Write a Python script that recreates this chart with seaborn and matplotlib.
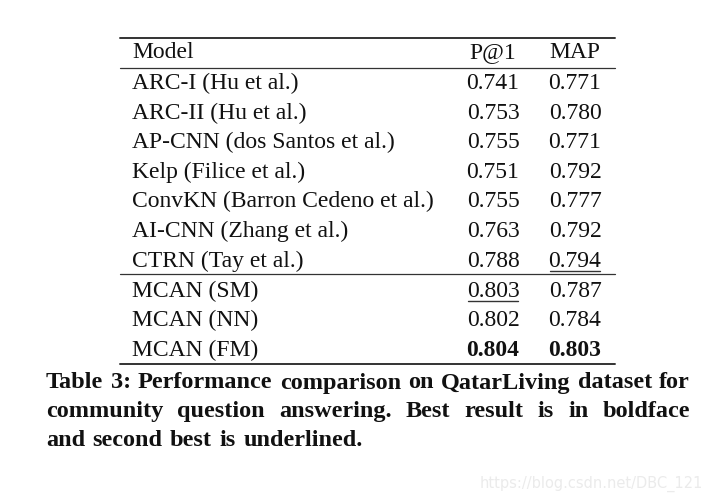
import matplotlib
matplotlib.use("Agg")
import matplotlib.pyplot as plt
import seaborn as sns

# table content
models = ["ARC-I (Hu et al.)", "ARC-II (Hu et al.)", "AP-CNN (dos Santos et al.)",
          "Kelp (Filice et al.)", "ConvKN (Barron Cedeno et al.)", "AI-CNN (Zhang et al.)",
          "CTRN (Tay et al.)", "MCAN (SM)", "MCAN (NN)", "MCAN (FM)"]
p_at_1 = [0.741, 0.753, 0.755, 0.751, 0.755, 0.763, 0.788, 0.803, 0.802, 0.804]
map_scores = [0.771, 0.780, 0.771, 0.792, 0.777, 0.792, 0.794, 0.787, 0.784, 0.803]
headers = ["Model", "P@1", "MAP"]
caption_lines = ["Table 3: Performance comparison on QatarLiving dataset for",
                 "community question answering. Best result is in boldface",
                 "and second best is underlined."]
watermark = "https://blog.csdn.net/DBC_121"

sns.set_theme(style="white")
plt.rcParams['font.family'] = ['Liberation Serif', 'DejaVu Serif']

W, H = 712, 501
fig = plt.figure(figsize=(W / 100, H / 100), dpi=100)
ax = fig.add_axes([0, 0, 1, 1])
ax.set_xlim(0, W)
ax.set_ylim(H, 0)
ax.axis("off")

fs = 17
x_model, x_p1, x_map = 132, 493, 575
rule_l, rule_r = 120, 615
y_head, y_first, row_h = 58, 89, 29.6   # baselines
sep_after = 7  # baseline models / MCAN split


def best_two(vals):
    order = sorted(set(vals), reverse=True)
    return order[0], order[1]


p_best, p_second = best_two(p_at_1)
m_best, m_second = best_two(map_scores)

ax.plot([rule_l, rule_r], [38, 38], color="#333333", lw=1.4)
ax.plot([rule_l, rule_r], [68, 68], color="#333333", lw=0.9)
ax.text(x_model, y_head, headers[0], fontsize=fs, va="baseline", ha="left", color="#111111")
ax.text(x_p1, y_head, headers[1], fontsize=fs, va="baseline", ha="center", color="#111111")
ax.text(x_map, y_head, headers[2], fontsize=fs, va="baseline", ha="center", color="#111111")

for i, (m, p, s) in enumerate(zip(models, p_at_1, map_scores)):
    y = y_first + i * row_h + (0.6 if i >= sep_after else 0)
    ax.text(x_model, y, m, fontsize=fs, va="baseline", ha="left", color="#111111")
    for x, v, best, second in [(x_p1, p, p_best, p_second), (x_map, s, m_best, m_second)]:
        bold = v == best
        ax.text(x, y, f"{v:.3f}", fontsize=fs, va="baseline", ha="center", color="#111111",
                fontweight="bold" if bold else "normal")
        if v == second:
            ax.plot([x - 25, x + 25], [y + 4, y + 4], color="#333333", lw=1.0)

y_sep = y_first - 7 + (sep_after - 0.5) * row_h
ax.plot([rule_l, rule_r], [y_sep, y_sep], color="#333333", lw=0.9)
y_bot = y_first - 7 + (len(models) - 0.5) * row_h + 1
ax.plot([rule_l, rule_r], [y_bot, y_bot], color="#333333", lw=1.4)

# justified bold caption
fig.canvas.draw()
rend = fig.canvas.get_renderer()
cap_l, cap_r = 46, 690
cap_fs = 17.5
for j, line in enumerate(caption_lines):
    y = 388.5 + j * 28.6
    words = line.split(" ")
    objs = [ax.text(0, y, w, fontsize=cap_fs, fontweight="bold", va="baseline", ha="left",
                    color="#111111") for w in words]
    widths = [o.get_window_extent(rend).width for o in objs]
    if j < len(caption_lines) - 1:
        gap = (cap_r - cap_l - sum(widths)) / (len(words) - 1)
    else:
        gap = 7.5
    x = cap_l
    for o, w in zip(objs, widths):
        o.set_x(x)
        x += w + gap

ax.text(703, 484, watermark, fontsize=10.5, ha="right", va="center", color="#ebebeb",
        family=["DejaVu Sans"])

fig.savefig("out.png", dpi=100, facecolor="white")
